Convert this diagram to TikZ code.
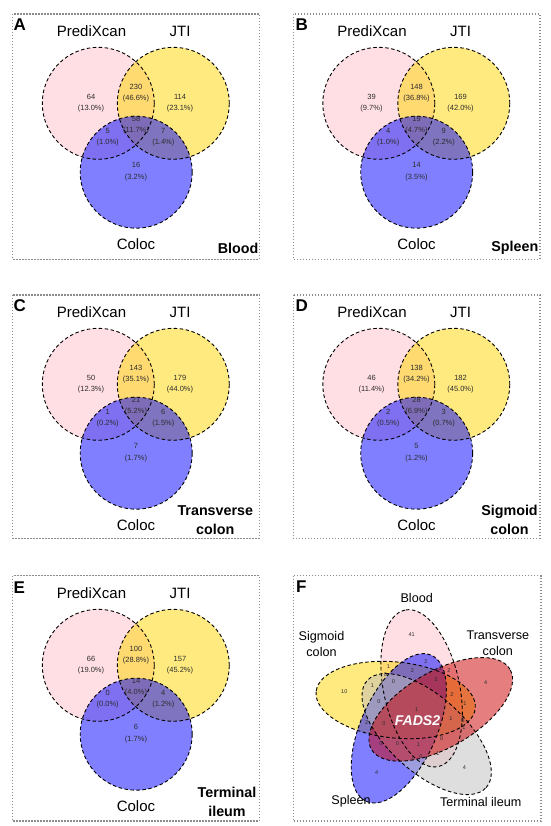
\documentclass[tikz,border=0pt]{standalone}
\usepackage{fontspec}
\setmainfont{Liberation Sans}
\definecolor{vpink}{RGB}{255,192,203}
\definecolor{vgold}{RGB}{255,215,0}
\definecolor{vblue}{RGB}{0,0,255}
\definecolor{vgrey}{RGB}{190,190,190}
\definecolor{vred}{RGB}{205,0,0}
\definecolor{framegrey}{RGB}{140,140,140}
\definecolor{numgrey}{RGB}{45,45,45}
\tikzset{
  panelbox/.style={draw=framegrey, line width=1.4pt, dash pattern=on 1.4pt off 1.6pt},
  vline/.style={draw=black, line width=0.9pt, dash pattern=on 3.5pt off 2.5pt},
  setlabel/.style={font=\fontsize{15}{18}\selectfont, inner sep=0pt},
  tissue/.style={font=\bfseries\fontsize{14.3}{18.7}\selectfont, align=center, inner sep=0pt},
  letter/.style={font=\bfseries\fontsize{17}{20}\selectfont, inner sep=0pt, anchor=west},
  cnt/.style={font=\fontsize{7.5}{11.7}\selectfont, align=center, text=numgrey, inner sep=0pt},
  fnum/.style={font=\fontsize{5.5}{6}\selectfont, text=numgrey, inner sep=0pt},
  flabel/.style={font=\fontsize{12.6}{16}\selectfont, align=center, inner sep=0pt},
}
\newcommand{\vennbase}{%
  \fill[vpink, fill opacity=.5] (98.3,103.3) circle[radius=56pt];
  \fill[vgold, fill opacity=.5] (173.3,103.3) circle[radius=56pt];
  \fill[vblue, fill opacity=.5] (136.2,172.2) circle[radius=56pt];
  \draw[vline] (98.3,103.3) circle[radius=56pt];
  \draw[vline] (173.3,103.3) circle[radius=56pt];
  \draw[vline] (136.2,172.2) circle[radius=56pt];
  \node[setlabel] (p) at (91.5,31.5) {PrediXcan};
  \node[setlabel] (j) at (180,31.5) {JTI};
  \node[setlabel] (c) at (136,244) {Coloc};
}
\newcommand{\vennnums}[7]{%
  \node[cnt] (po) at (91,103.2) {#1};
  \node[cnt] (pj) at (136,93.2) {#2};
  \node[cnt] (jo) at (180,103.2) {#3};
  \node[cnt] (all) at (136,125.2) {#4};
  \node[cnt] (pc) at (107.7,137.2) {#5};
  \node[cnt] (jc) at (163.3,137.2) {#6};
  \node[cnt] (co) at (136,171.4) {#7};
}
\begin{document}
\begin{tikzpicture}[x=1pt,y=-1pt]
\useasboundingbox (0,0) rectangle (550,826);
\fill[white] (0,0) rectangle (550,826);

% Panel A
\begin{scope}[name prefix=A-]
  \draw[panelbox] (12.7,14) rectangle (259.3,259.3);
  \vennbase
  \vennnums{64\\(13.0\%)}{230\\(46.6\%)}{114\\(23.1\%)}{58\\(11.7\%)}{5\\(1.0\%)}{7\\(1.4\%)}{16\\(3.2\%)}
  \node[letter] (let) at (13.5,25) {A};
  \node[tissue, anchor=east] (t) at (258.5,248.5) {Blood};
\end{scope}

% Panel B
\begin{scope}[name prefix=B-, shift={(280.5,0)}]
  \draw[panelbox] (12.7,14) rectangle (259.3,259.3);
  \vennbase
  \vennnums{39\\(9.7\%)}{148\\(36.8\%)}{169\\(42.0\%)}{19\\(4.7\%)}{4\\(1.0\%)}{9\\(2.2\%)}{14\\(3.5\%)}
  \node[letter] (let) at (15,25) {B};
  \node[tissue, anchor=east] (t) at (258,248.3) {Spleen};
\end{scope}

% Panel C
\begin{scope}[name prefix=C-, shift={(0,281)}]
  \draw[panelbox] (12.7,14) rectangle (259.3,257.3);
  \vennbase
  \vennnums{50\\(12.3\%)}{143\\(35.1\%)}{179\\(44.0\%)}{21\\(5.2\%)}{1\\(0.2\%)}{6\\(1.5\%)}{7\\(1.7\%)}
  \node[letter] (let) at (13.5,25) {C};
  \node[tissue] (t) at (215.3,239) {Transverse\\colon};
\end{scope}

% Panel D
\begin{scope}[name prefix=D-, shift={(280.5,281)}]
  \draw[panelbox] (12.7,14) rectangle (259.3,257.3);
  \vennbase
  \vennnums{46\\(11.4\%)}{138\\(34.2\%)}{182\\(45.0\%)}{28\\(6.9\%)}{2\\(0.5\%)}{3\\(0.7\%)}{5\\(1.2\%)}
  \node[letter] (let) at (15,25) {D};
  \node[tissue] (t) at (229,239) {Sigmoid\\colon};
\end{scope}

% Panel E
\begin{scope}[name prefix=E-, shift={(0,562)}]
  \draw[panelbox] (12.7,13.7) rectangle (259.3,259);
  \vennbase
  \vennnums{66\\(19.0\%)}{100\\(28.8\%)}{157\\(45.2\%)}{14\\(4.0\%)}{0\\(0.0\%)}{4\\(1.2\%)}{6\\(1.7\%)}
  \node[letter] (let) at (13.5,26) {E};
  \node[tissue] (t) at (227,239.7) {Terminal\\ileum};
\end{scope}

% Panel F
\begin{scope}[name prefix=F-]
  \draw[panelbox] (293.2,575.7) rectangle (540.8,821);
  \foreach \cx/\cy/\rot/\col in {421.61/688.30/102/vpink, 395.68/700.01/174/vgold, 398.80/728.29/246/vblue, 426.66/734.06/318/vgrey, 440.75/709.35/30/vred}
    \fill[\col, fill opacity=.5, shift={(\cx,\cy)}, rotate=\rot] (0,0) ellipse[x radius=80pt, y radius=38pt];
  \foreach \cx/\cy/\rot in {421.61/688.30/102, 395.68/700.01/174, 398.80/728.29/246, 426.66/734.06/318, 440.75/709.35/30}
    \draw[vline, shift={(\cx,\cy)}, rotate=\rot] (0,0) ellipse[x radius=80pt, y radius=38pt];
  \node[letter] (let) at (296,587) {F};
  \node[flabel] (blood) at (416.7,597.7) {Blood};
  \node[flabel] (sig) at (321.5,643.7) {Sigmoid\\colon};
  \node[flabel] (tra) at (497.8,643.7) {Transverse\\colon};
  \node[flabel] (spl) at (351,801.7) {Spleen};
  \node[flabel] (ter) at (480.7,801.7) {Terminal ileum};
  \node[font=\bfseries\itshape\fontsize{14.1}{16}\selectfont, text=white, inner sep=0pt] (fads) at (417.5,721) {FADS2};
  \foreach \x/\y/\t [count=\i] in {
    411.7/635/41, 344.3/691.2/10, 376.7/773/4, 464.3/768/4, 485.7/682.5/4, 416.7/710/1,
    388.5/666.7/1, 385.3/674.5/0, 372.5/686/1, 393.5/681.7/0, 412.3/671/2, 426/661.7/2,
    440.7/669/2, 449/670.7/2, 436/680/3, 379/701.7/0, 452/695/2, 465/703.3/1,
    366.7/723/2, 384/723.3/0, 451/718.3/1, 462.7/720.3/3, 464/728/1, 441.7/738.5/0,
    381/744/0, 397.5/744/0, 418.5/745/1, 413/759/1, 421/756.5/0, 437.8/754/1}
    \node[fnum] (n\i) at (\x,\y) {\t};
\end{scope}
\end{tikzpicture}
\end{document}
